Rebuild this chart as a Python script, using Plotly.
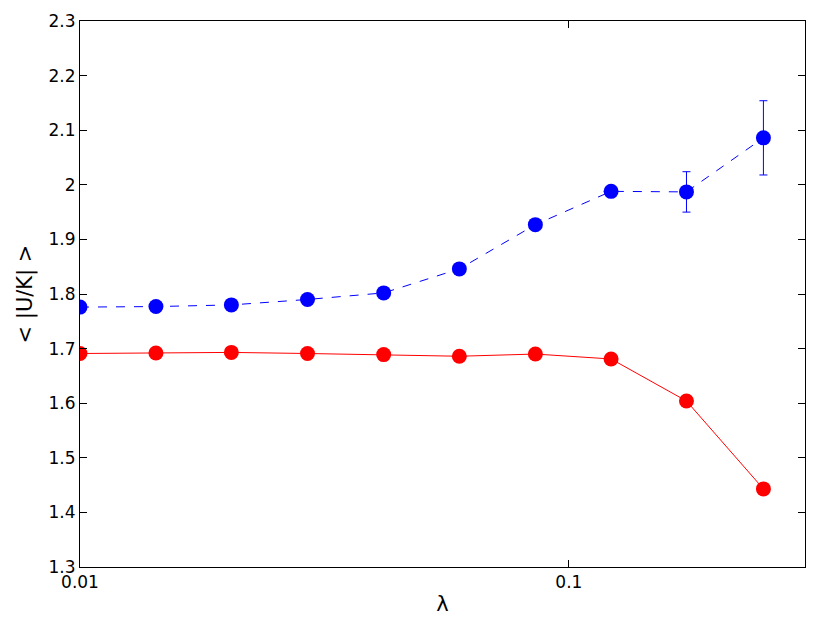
import plotly.graph_objects as go

lam = [0.01, 0.0143, 0.0204, 0.0292, 0.0418, 0.0597, 0.0854, 0.122, 0.174, 0.25]
blue = [1.776, 1.777, 1.780, 1.790, 1.802, 1.846, 1.927, 1.988, 1.987, 2.086]
blue_err = [0, 0, 0, 0, 0, 0, 0, 0, 0.037, 0.068]
red = [1.691, 1.692, 1.693, 1.691, 1.689, 1.686, 1.690, 1.681, 1.604, 1.443]

fig = go.Figure()
fig.add_trace(go.Scatter(x=lam, y=blue, mode="lines+markers",
    line=dict(color="#0000ff", width=1, dash="dash"),
    marker=dict(color="#0000ff", size=15),
    error_y=dict(type="data", array=blue_err, color="#0000ff", thickness=1, width=4)))
fig.add_trace(go.Scatter(x=lam, y=red, mode="lines+markers",
    line=dict(color="#ff0000", width=1),
    marker=dict(color="#ff0000", size=15)))

ax = dict(showline=True, linecolor="black", linewidth=1, mirror="ticks", ticks="inside",
          ticklen=7, tickcolor="black", showgrid=False, zeroline=False, automargin=False)
fig.update_layout(
    width=830, height=623, showlegend=False,
    plot_bgcolor="white", paper_bgcolor="white",
    margin=dict(l=72, r=33, t=13, b=64),
    font=dict(family="DejaVu Sans", size=17, color="black"),
    xaxis=dict(type="log", range=[-2, -0.517], tickvals=[0.01, 0.1], ticktext=["0.01", "0.1"],
               title=dict(text="λ", standoff=4, font=dict(size=21)), **ax),
    yaxis=dict(range=[1.3, 2.3], dtick=0.1, tickformat="~r",
               title=dict(text="< |U/K| >", standoff=10, font=dict(size=21)), **ax),
)
fig.write_html("out.html")
